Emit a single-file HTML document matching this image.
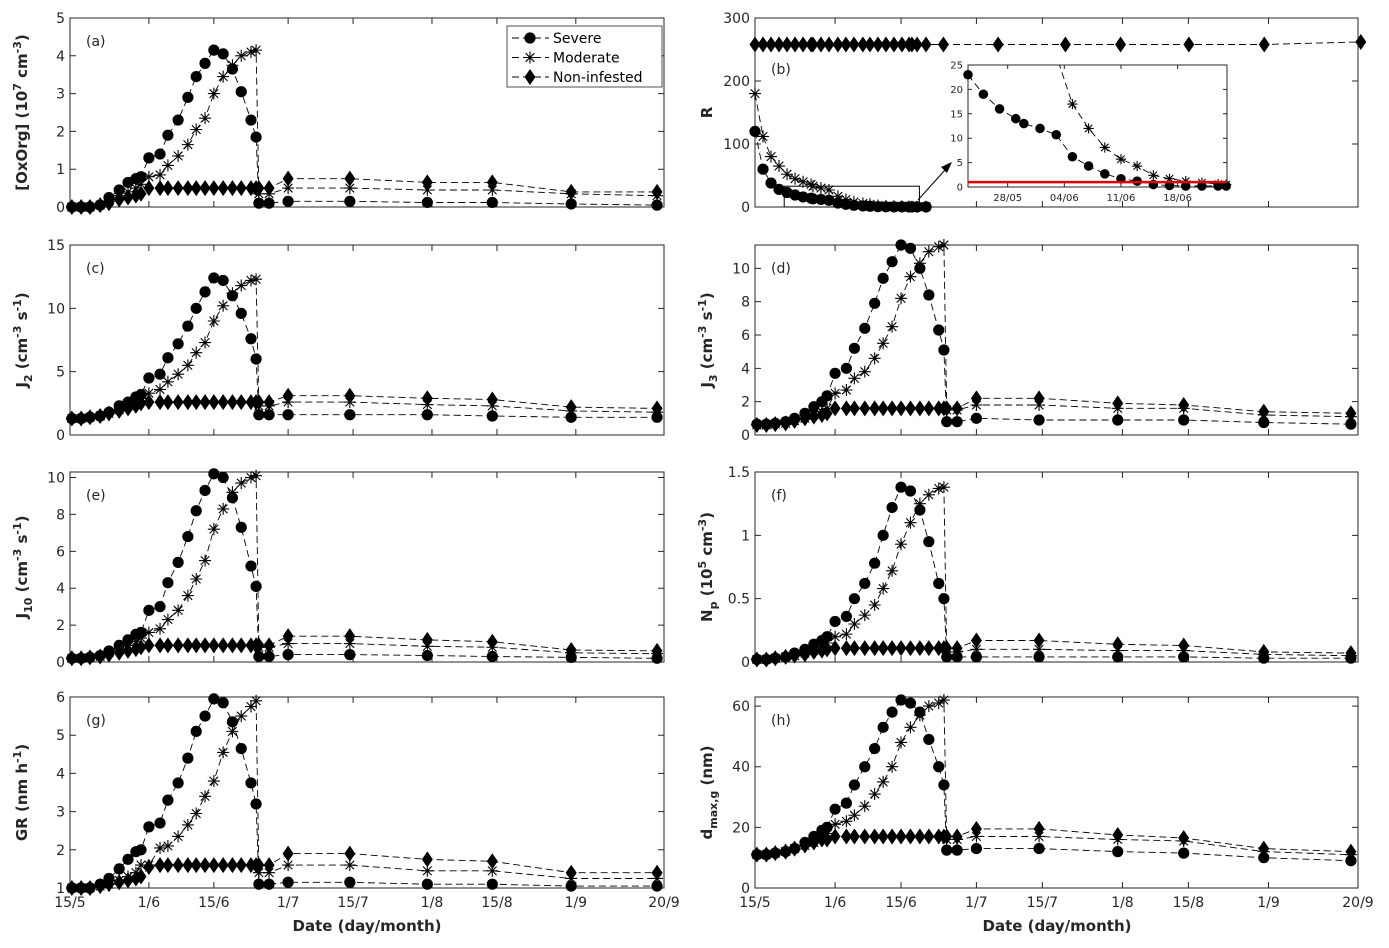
<!DOCTYPE html>
<html><head><meta charset="utf-8"><title>Chart</title>
<style>
html,body{margin:0;padding:0;background:#fff;}
svg{display:block;font-family:"DejaVu Sans","Liberation Sans",sans-serif;}
.tk{font-size:14px;fill:#262626;}
.yt{font-size:15px;font-weight:bold;fill:#262626;}
</style></head>
<body>
<svg id="fig" width="1389" height="948" viewBox="0 0 1389 948" xmlns="http://www.w3.org/2000/svg">
<text class="yt" x="367" y="931" text-anchor="middle">Date (day/month)</text>
<text class="yt" x="1057" y="931" text-anchor="middle">Date (day/month)</text>
</svg>
<script>
// ---- data ----
const dates = [135.4,137.4,139.3,141.5,143.4,145.6,147.5,149.2,150.3,152,154.4,156.1,158.3,160.4,162.2,164.1,166,168,170,171.9,174,175.1,175.7,177.9,182,195.3,212,226,243,261.5];
const datesB = [135,136.7,138.4,140.1,141.8,143.5,145.2,146.9,147.3,149,150.7,152.6,154.3,156,157.9,159.4,161.1,162.8,164.5,166.2,167.7,168.3,169.4,171.3,175,186.6,200.9,212.6,227.1,243.1,263.6];
const datesInset = [143.1,145,147,149,150,152,154,156,158,160,162,164,166,168,170,172,174,175];
const dateTicks = [135,152,166,182,196,213,227,244,263];
const dateLabels = ["15/5","1/6","15/6","1/7","15/7","1/8","15/8","1/9","20/9"];
const insetTicks = [148,155,162,169];
const insetLabels = ["28/05","04/06","11/06","18/06"];

const aSevere = [0,0,0,0.05,0.25,0.45,0.65,0.75,0.8,1.3,1.4,1.9,2.3,2.9,3.45,3.8,4.15,4.05,3.65,3.05,2.3,1.85,0.1,0.1,0.15,0.15,0.12,0.12,0.08,0.05];
const aModerate = [0,0,0,0.05,0.15,0.3,0.4,0.5,0.6,0.8,0.85,1.1,1.35,1.65,2.05,2.35,3.0,3.45,3.75,4.0,4.1,4.15,0.35,0.35,0.5,0.5,0.45,0.45,0.35,0.3];
const aNon = [0,0,0,0.05,0.1,0.2,0.25,0.3,0.35,0.5,0.5,0.5,0.5,0.5,0.5,0.5,0.5,0.5,0.5,0.5,0.5,0.5,0.5,0.5,0.75,0.75,0.65,0.65,0.4,0.4];

const bSevere = [120,60,38,28,23,19,16,14,13,12,10.7,6.2,4.3,2.7,1.7,1.2,0.5,0.3,0.2,0.2,0.2,0.2,0.2,0.2];
const bModerate = [180,112,80,65,52,45,40,36,33,30,27,17,12,8.1,5.7,4.3,2.4,1.7,1.2,0.9,0.6,0.5,0.4,0.4];
const bNon = [258,258,258,258,258,258,258,258,258,258,258,258,258,258,258,258,258,258,258,258,258,258,258,258,258,258,258,258,258,258,262];
const insetSevere = [23,19,16,14,13,12,10.7,6.2,4.3,2.7,1.7,1.2,0.5,0.3,0.2,0.2,0.2,0.2];
const insetModerate = [48,44,40,36,33,30,27,17,12,8.1,5.7,4.3,2.4,1.7,1.2,0.9,0.6,0.5];
const insetThreshold = [1];

const cSevere = [1.3,1.3,1.4,1.5,1.8,2.3,2.6,3.0,3.2,4.5,4.8,6.1,7.2,8.6,10.0,11.3,12.4,12.2,11.0,9.6,7.6,6.0,1.6,1.6,1.6,1.6,1.6,1.5,1.4,1.4];
const cModerate = [1.3,1.3,1.4,1.5,1.7,2.0,2.3,2.6,2.9,3.3,3.6,4.2,4.8,5.5,6.5,7.3,9.0,10.2,11.2,11.8,12.2,12.3,2.3,2.3,2.6,2.6,2.4,2.3,1.9,1.8];
const cNon = [1.3,1.3,1.4,1.5,1.7,1.9,2.1,2.3,2.5,2.6,2.6,2.6,2.6,2.6,2.6,2.6,2.6,2.6,2.6,2.6,2.6,2.6,2.6,2.6,3.1,3.1,2.9,2.8,2.2,2.1];

const dSevere = [0.65,0.65,0.7,0.8,1.0,1.3,1.7,2.0,2.35,3.7,4.0,5.2,6.4,7.9,9.4,10.4,11.4,11.2,10.0,8.4,6.3,5.1,0.8,0.8,1.0,0.9,0.9,0.9,0.75,0.65];
const dModerate = [0.6,0.6,0.65,0.7,0.85,1.0,1.2,1.4,1.6,2.5,2.7,3.4,3.8,4.6,5.5,6.5,8.2,9.5,10.3,11.0,11.3,11.4,1.5,1.5,1.8,1.8,1.6,1.6,1.2,1.1];
const dNon = [0.6,0.6,0.65,0.7,0.85,1.0,1.1,1.2,1.3,1.6,1.6,1.6,1.6,1.6,1.6,1.6,1.6,1.6,1.6,1.6,1.6,1.6,1.6,1.6,2.2,2.2,1.9,1.8,1.4,1.3];

const eSevere = [0.2,0.2,0.25,0.35,0.6,0.9,1.2,1.5,1.6,2.8,3.0,4.3,5.4,6.8,8.2,9.3,10.2,10.0,8.9,7.3,5.2,4.1,0.3,0.3,0.4,0.4,0.35,0.3,0.25,0.2];
const eModerate = [0.2,0.2,0.25,0.3,0.5,0.7,0.9,1.1,1.3,1.6,1.8,2.3,2.8,3.6,4.5,5.5,7.2,8.3,9.2,9.7,10.0,10.1,0.8,0.8,1.0,1.0,0.85,0.8,0.5,0.45];
const eNon = [0.2,0.2,0.25,0.3,0.4,0.5,0.6,0.7,0.8,0.9,0.9,0.9,0.9,0.9,0.9,0.9,0.9,0.9,0.9,0.9,0.9,0.9,0.9,0.9,1.4,1.4,1.2,1.1,0.65,0.6];

const fSevere = [0.02,0.02,0.03,0.04,0.07,0.1,0.14,0.17,0.2,0.32,0.36,0.5,0.62,0.78,1.0,1.22,1.38,1.35,1.2,0.95,0.62,0.5,0.04,0.04,0.04,0.04,0.04,0.04,0.03,0.03];
const fModerate = [0.02,0.02,0.03,0.04,0.05,0.07,0.09,0.12,0.15,0.2,0.22,0.3,0.37,0.45,0.58,0.72,0.93,1.1,1.25,1.32,1.37,1.38,0.08,0.08,0.1,0.1,0.09,0.09,0.06,0.05];
const fNon = [0.02,0.02,0.03,0.04,0.05,0.06,0.08,0.09,0.1,0.11,0.11,0.11,0.11,0.11,0.11,0.11,0.11,0.11,0.11,0.11,0.11,0.11,0.11,0.11,0.17,0.17,0.14,0.13,0.08,0.07];

const gSevere = [1,1,1,1.1,1.25,1.5,1.75,1.95,2.0,2.6,2.7,3.3,3.75,4.4,5.1,5.5,5.95,5.85,5.35,4.65,3.75,3.2,1.1,1.1,1.15,1.15,1.1,1.1,1.05,1.05];
const gModerate = [1,1,1,1.05,1.1,1.2,1.3,1.4,1.6,1.6,2.05,2.1,2.35,2.65,2.95,3.4,3.8,4.55,5.1,5.5,5.75,5.9,1.4,1.4,1.6,1.6,1.45,1.45,1.25,1.25];
const gNon = [1,1,1,1.05,1.1,1.15,1.2,1.25,1.3,1.55,1.6,1.6,1.6,1.6,1.6,1.6,1.6,1.6,1.6,1.6,1.6,1.6,1.6,1.6,1.9,1.9,1.75,1.7,1.4,1.4];

const hSevere = [11,11,11.5,12,13,15,17,19,20,26,28,34,40,46,53,58,62,61,58,49,40,34,12.5,12.5,13,13,12,11.5,10,9];
const hModerate = [11,11,11.5,12,13,14,15,17,18,21,22,24,27,31,35,40,48,53,57,60,61,62,16,16,17,17,16,15.5,12,11];
const hNon = [11,11,11.5,12,13,14,15,16,16,17,17,17,17,17,17,17,17,17,17,17,17,17,17,17,19.5,19.5,17.5,16.5,13,12];

// ---- drawing ----
const NS = "http://www.w3.org/2000/svg";
const fig = document.getElementById("fig");
function mk(tag, attrs, parent){
  const e = document.createElementNS(NS, tag);
  for (const k in attrs) e.setAttribute(k, attrs[k]);
  (parent||fig).appendChild(e);
  return e;
}
function marker(g, type, x, y, s){
  s = s || 1;
  if (type === "circle"){
    const c = mk("circle", {cx:x, cy:y, r:5.6*s, fill:"#000"}, g);
    
    
  } else if (type === "star"){
    const r = 6*s, q = 4.3*s;
    const p = mk("path", {d:`M${x-r},${y}H${x+r}M${x},${y-r}V${y+r}M${x-q},${y-q}L${x+q},${y+q}M${x-q},${y+q}L${x+q},${y-q}`, stroke:"#000", "stroke-width":1.1, fill:"none"}, g);
    
    
  } else {
    const w = 5.5*s, h = 8*s;
    const p = mk("polygon", {points:`${x},${y-h} ${x+w},${y} ${x},${y+h} ${x-w},${y}`, fill:"#000"}, g);
    
    
  }
}
function series(g, xs, ys, sx, sy, type, name, s){
  const sg = mk("g", {}, g);
  
  
  let d = "";
  for (let i=0;i<ys.length;i++) d += (i?"L":"M") + sx(xs[i]).toFixed(1) + "," + sy(ys[i]).toFixed(1);
  mk("path", {d:d, fill:"none", stroke:"#000", "stroke-width":0.9, "stroke-dasharray":"7,4"}, sg);
  for (let i=0;i<ys.length;i++) marker(sg, type, sx(xs[i]), sy(ys[i]), s);
}

function panel(p){
  const g = mk("g", {});
  
  
  const sx = v => p.x0 + (v-135)/(263-135)*(p.x1-p.x0);
  const sy = v => p.y1 - (v-p.ymin)/(p.ymax-p.ymin)*(p.y1-p.y0);
  const clipId = "clip-" + p.id;
  const cp = mk("clipPath", {id:clipId}, g);
  mk("rect", {x:p.x0-8, y:p.y0-10, width:p.x1-p.x0+16, height:p.y1-p.y0+20}, cp);
  const fr = mk("rect", {x:p.x0, y:p.y0, width:p.x1-p.x0, height:p.y1-p.y0, fill:"none", stroke:"#262626", "stroke-width":1}, g);
  
  
  for (let i=0;i<dateTicks.length;i++){
    const x = sx(dateTicks[i]);
    mk("path", {d:`M${x},${p.y1}v-6M${x},${p.y0}v6`, stroke:"#262626", "stroke-width":1}, g);
    if (p.xlabels){
      const t = mk("text", {x:x, y:p.y1+19, class:"tk", "text-anchor":"middle"}, g);
      t.textContent = dateLabels[i];
      
      
    }
  }
  for (const v of p.yticks){
    const y = sy(v);
    mk("path", {d:`M${p.x0},${y}h6M${p.x1},${y}h-6`, stroke:"#262626", "stroke-width":1}, g);
    const t = mk("text", {x:p.x0-5, y:y+5, class:"tk", "text-anchor":"end"}, g);
    t.textContent = String(v);
    
    
  }
  const yt = mk("text", {class:"yt", "text-anchor":"middle", transform:`translate(${p.x0-43},${(p.y0+p.y1)/2}) rotate(-90)`}, g);
  yt.innerHTML = p.title;
  
  
  const dg = mk("g", {"clip-path":`url(#${clipId})`}, g);
  const xs = p.xs || dates;
  if (p.sev) series(dg, p.sevx || xs, p.sev, sx, sy, "circle", "series-severe");
  if (p.mod) series(dg, p.sevx || xs, p.mod, sx, sy, "star", "series-moderate");
  series(dg, xs, p.non, sx, sy, "diamond", "series-non-infested");
  const pl = mk("text", {x:p.x0+16, y:p.y0+(p.labelDy||28), class:"tk", "font-size":"15"}, g);
  pl.textContent = "(" + p.id + ")";
  
  
  return {g, sx, sy};
}

const U = '<tspan dy="-6" font-size="11">', D = '<tspan dy="5" font-size="11">', E = '</tspan>';
const L = {x0:70, x1:664}, R = {x0:755, x1:1358};
const rows = [[18,207],[245,435],[472,662],[697,888]];

panel({id:"a", ...L, y0:rows[0][0], y1:rows[0][1], ymin:0, ymax:5, yticks:[0,1,2,3,4,5], sev:aSevere, mod:aModerate, non:aNon,
  title:`[OxOrg] (10${U}7${E}<tspan dy="6"> cm</tspan>${U}-3${E}<tspan dy="6">)</tspan>`});
const pb = panel({id:"b", ...R, y0:rows[0][0], y1:rows[0][1], ymin:0, ymax:300, yticks:[0,100,200,300], xs:datesB, sevx:datesB, sev:bSevere, mod:bModerate, non:bNon, title:"R", labelDy:56});
panel({id:"c", ...L, y0:rows[1][0], y1:rows[1][1], ymin:0, ymax:15, yticks:[0,5,10,15], sev:cSevere, mod:cModerate, non:cNon,
  title:`J${D}2${E}<tspan dy="-5"> (cm</tspan>${U}-3${E}<tspan dy="6"> s</tspan>${U}-1${E}<tspan dy="6">)</tspan>`});
panel({id:"d", ...R, y0:rows[1][0], y1:rows[1][1], ymin:0, ymax:11.4, yticks:[0,2,4,6,8,10], sev:dSevere, mod:dModerate, non:dNon,
  title:`J${D}3${E}<tspan dy="-5"> (cm</tspan>${U}-3${E}<tspan dy="6"> s</tspan>${U}-1${E}<tspan dy="6">)</tspan>`});
panel({id:"e", ...L, y0:rows[2][0], y1:rows[2][1], ymin:0, ymax:10.3, yticks:[0,2,4,6,8,10], sev:eSevere, mod:eModerate, non:eNon,
  title:`J${D}10${E}<tspan dy="-5"> (cm</tspan>${U}-3${E}<tspan dy="6"> s</tspan>${U}-1${E}<tspan dy="6">)</tspan>`});
panel({id:"f", ...R, y0:rows[2][0], y1:rows[2][1], ymin:0, ymax:1.5, yticks:[0,0.5,1,1.5], sev:fSevere, mod:fModerate, non:fNon,
  title:`N${D}p${E}<tspan dy="-5"> (10</tspan>${U}5${E}<tspan dy="6"> cm</tspan>${U}-3${E}<tspan dy="6">)</tspan>`});
panel({id:"g", ...L, y0:rows[3][0], y1:rows[3][1], ymin:1, ymax:6, yticks:[1,2,3,4,5,6], sev:gSevere, mod:gModerate, non:gNon, xlabels:true,
  title:`GR (nm h${U}-1${E}<tspan dy="6">)</tspan>`});
panel({id:"h", ...R, y0:rows[3][0], y1:rows[3][1], ymin:0, ymax:63, yticks:[0,20,40,60], sev:hSevere, mod:hModerate, non:hNon, xlabels:true,
  title:`d${D}max,g${E}<tspan dy="-5"> (nm)</tspan>`});

const zb = mk("rect", {x:pb.sx(141.2), y:pb.sy(33), width:pb.sx(169.9)-pb.sx(141.2), height:pb.sy(0)-pb.sy(33), fill:"none", stroke:"#000", "stroke-width":1});


const ar = mk("path", {d:"M918,200L945,170", stroke:"#000", "stroke-width":1, fill:"none"});


const ah = mk("polygon", {points:"952,162 941,167 947,173", fill:"#000"});



(function(){
  const ix0 = 968, ix1 = 1227, iy0 = 65, iy1 = 187;
  const g = mk("g", {});
  
  
  const sx = v => ix0 + (v-143.1)/(175.1-143.1)*(ix1-ix0);
  const sy = v => iy1 - v/25*(iy1-iy0);
  mk("rect", {x:ix0, y:iy0, width:ix1-ix0, height:iy1-iy0, fill:"#fff", stroke:"#262626", "stroke-width":1}, g);
  const cp = mk("clipPath", {id:"clip-inset"}, g);
  mk("rect", {x:ix0-7, y:iy0, width:ix1-ix0+14, height:iy1-iy0+8}, cp);
  for (let v=0; v<=25; v+=5){
    const y = sy(v);
    mk("path", {d:`M${ix0},${y}h4M${ix1},${y}h-4`, stroke:"#262626"}, g);
    const t = mk("text", {x:ix0-5, y:y+3.5, "font-size":"10", fill:"#262626", "text-anchor":"end"}, g);
    t.textContent = String(v);
    
    
  }
  for (let i=0;i<insetTicks.length;i++){
    const x = sx(insetTicks[i]);
    mk("path", {d:`M${x},${iy1}v-4M${x},${iy0}v4`, stroke:"#262626"}, g);
    const t = mk("text", {x:x, y:iy1+14, "font-size":"10", fill:"#262626", "text-anchor":"middle"}, g);
    t.textContent = insetLabels[i];
    
    
  }
  const dg = mk("g", {"clip-path":"url(#clip-inset)"}, g);
  series(dg, datesInset, insetSevere, sx, sy, "circle", "inset-series-severe", 0.85);
  series(dg, datesInset, insetModerate, sx, sy, "star", "inset-series-moderate", 0.85);
  const th = mk("line", {x1:ix0, x2:ix1, y1:sy(insetThreshold[0]), y2:sy(insetThreshold[0]), stroke:"#e00000", "stroke-width":2.5}, g);
  
  
})();

(function(){
  const g = mk("g", {});
  
  
  mk("rect", {x:507, y:26, width:155, height:61, fill:"#fff", stroke:"#262626", "stroke-width":0.8}, g);
  const names = ["Severe","Moderate","Non-infested"];
  const types = ["circle","star","diamond"];
  for (let i=0;i<3;i++){
    const y = 38 + i*19.5;
    const eg = mk("g", {}, g);
    
    
    mk("line", {x1:512, x2:549, y1:y, y2:y, stroke:"#000", "stroke-width":0.9, "stroke-dasharray":"7,4"}, eg);
    marker(eg, types[i], 530, y);
    const t = mk("text", {x:553, y:y+5, "font-size":"14", fill:"#000"}, eg);
    t.textContent = names[i];
  }
})();
</script>
</body></html>
